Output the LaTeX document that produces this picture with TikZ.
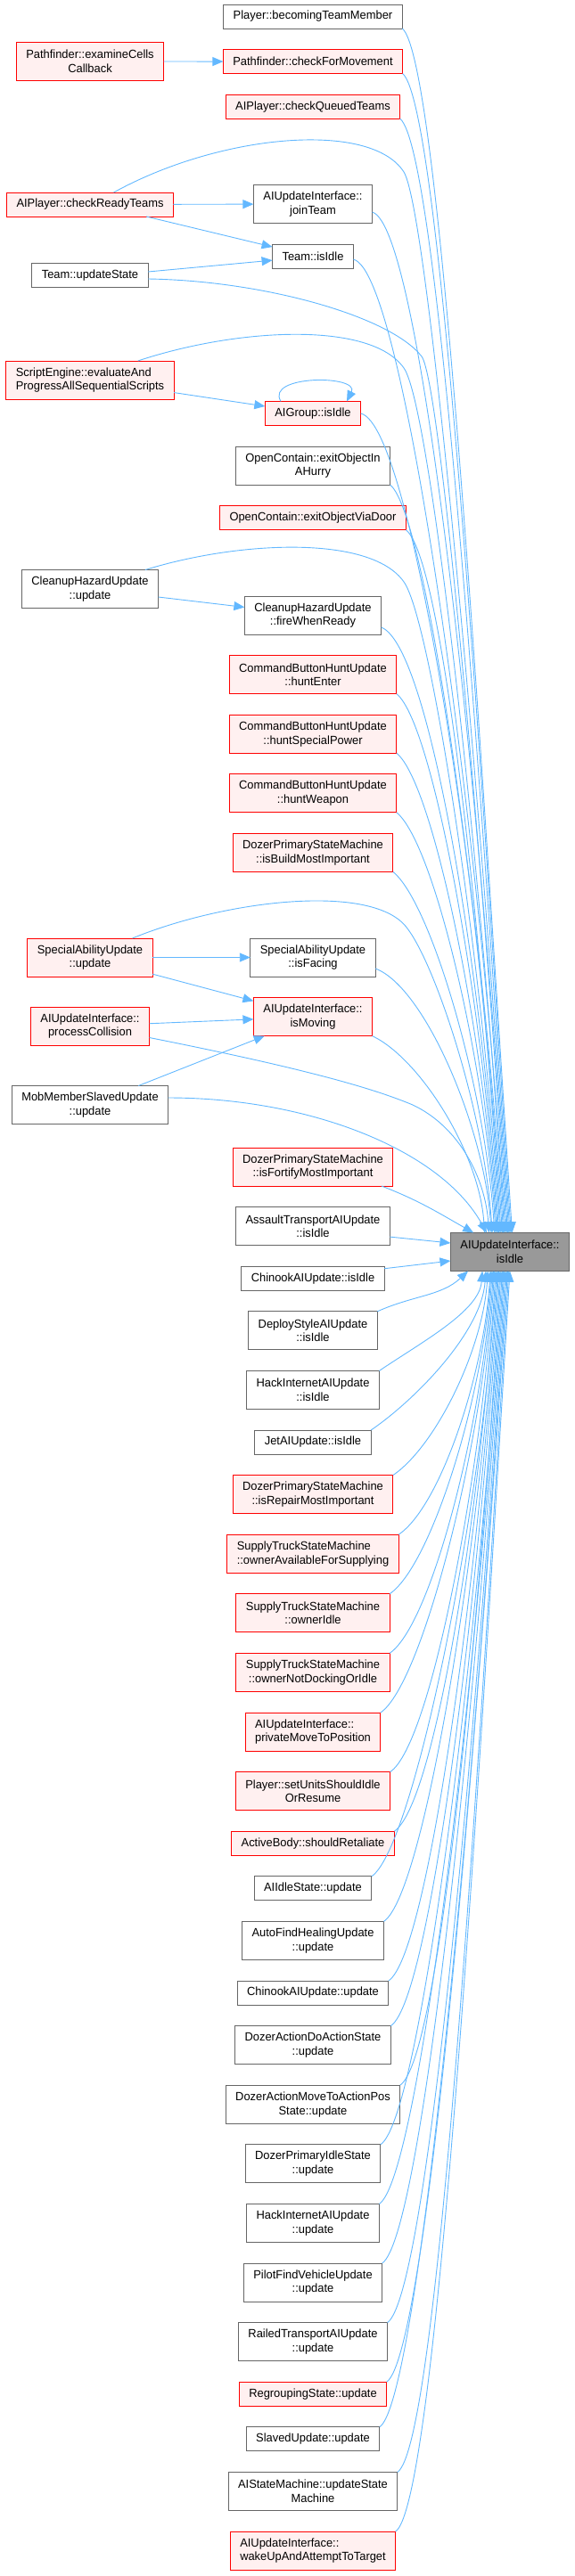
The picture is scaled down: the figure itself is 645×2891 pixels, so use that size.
\documentclass[tikz,border=0pt]{standalone}
\usepackage{fontspec}
\newfontfamily\dxfont{Liberation Sans}[FakeStretch=0.97]
\usetikzlibrary{positioning,arrows.meta}
\definecolor{edgeblue}{HTML}{63B8FF}
\definecolor{nodegrey}{HTML}{666666}
\definecolor{redfill}{HTML}{FFF0F0}
\definecolor{rootfill}{HTML}{999999}

\begin{document}
\begin{tikzpicture}[x=1pt, y=-1pt, node distance=23.6pt,
  font=\dxfont\fontsize{13.3}{15.7}\selectfont,
  fn/.style={draw=nodegrey, fill=white, line width=1pt, inner xsep=11pt, inner ysep=0pt, outer sep=0pt, minimum height=27pt, align=center},
  fnred/.style={fn, draw=red, fill=redfill},
  root/.style={fn, fill=rootfill},
  two/.style={minimum height=43pt},
  edge/.style={draw=edgeblue, line width=0.9pt, ->},
  >={Triangle[length=12pt,width=10pt]}]
\useasboundingbox (0,0) rectangle (645,2891);
% middle column
\node[fn] (bt) at (351,18.5) {Player::becomingTeamMember};
\node[fnred, below=of bt] (cfm) {Pathfinder::checkForMovement};
\node[fnred, below=of cfm] (cqt) {AIPlayer::checkQueuedTeams};
\node[fn, two] (jt) at (351,229) {AIUpdateInterface::\\joinTeam};
\node[fn, below=of jt] (ti) {Team::isIdle};
\node[fnred] (ag) at (351,464) {AIGroup::isIdle};
\node[fn, two, below=of ag] (eh) {OpenContain::exitObjectIn\\AHurry};
\node[fnred, below=of eh] (ed) {OpenContain::exitObjectViaDoor};
\node[fn, two] (fw) at (351,690.5) {CleanupHazardUpdate\\::fireWhenReady};
\node[fnred, two, below=of fw] (he) {CommandButtonHuntUpdate\\::huntEnter};
\node[fnred, two, below=of he] (hs) {CommandButtonHuntUpdate\\::huntSpecialPower};
\node[fnred, two, below=of hs] (hw) {CommandButtonHuntUpdate\\::huntWeapon};
\node[fnred, two, below=of hw] (ib) {DozerPrimaryStateMachine\\::isBuildMostImportant};
\node[fn, two] (isf) at (351,1074.5) {SpecialAbilityUpdate\\::isFacing};
\node[fnred, two, below=of isf] (ism) {AIUpdateInterface::\\isMoving};
\node[fnred, two] (ifm) at (351,1309.5) {DozerPrimaryStateMachine\\::isFortifyMostImportant};
\node[fn, two, below=of ifm] (ati) {AssaultTransportAIUpdate\\::isIdle};
\node[fn, below=of ati] (ci) {ChinookAIUpdate::isIdle};
\node[fn, two, below=of ci] (dsi) {DeployStyleAIUpdate\\::isIdle};
\node[fn, two, below=of dsi] (hii) {HackInternetAIUpdate\\::isIdle};
\node[fn, below=of hii] (jti) {JetAIUpdate::isIdle};
\node[fnred, two, below=of jti] (irm) {DozerPrimaryStateMachine\\::isRepairMostImportant};
\node[fnred, two, align=left, below=of irm] (oas) {SupplyTruckStateMachine\\::ownerAvailableForSupplying};
\node[fnred, two, below=of oas] (oid) {SupplyTruckStateMachine\\::ownerIdle};
\node[fnred, two, below=of oid] (ond) {SupplyTruckStateMachine\\::ownerNotDockingOrIdle};
\node[fnred, two, align=left, below=of ond] (pmp) {AIUpdateInterface::\\privateMoveToPosition};
\node[fnred, two, below=of pmp] (sus) {Player::setUnitsShouldIdle\\OrResume};
\node[fnred, below=of sus] (sra) {ActiveBody::shouldRetaliate};
\node[fn, below=of sra] (ais) {AIIdleState::update};
\node[fn, two, below=of ais] (afh) {AutoFindHealingUpdate\\::update};
\node[fn, below=of afh] (cau) {ChinookAIUpdate::update};
\node[fn, two, below=of cau] (dda) {DozerActionDoActionState\\::update};
\node[fn, two, below=of dda] (dmp) {DozerActionMoveToActionPos\\State::update};
\node[fn, two, below=of dmp] (dpi) {DozerPrimaryIdleState\\::update};
\node[fn, two, below=of dpi] (hiu) {HackInternetAIUpdate\\::update};
\node[fn, two, below=of hiu] (pfv) {PilotFindVehicleUpdate\\::update};
\node[fn, two, below=of pfv] (rta) {RailedTransportAIUpdate\\::update};
\node[fnred, below=of rta] (rgs) {RegroupingState::update};
\node[fn, below=of rgs] (slu) {SlavedUpdate::update};
\node[fn, two, below=of slu] (smu) {AIStateMachine::updateState\\Machine};
\node[fnred, two, align=left, below=of smu] (wua) {AIUpdateInterface::\\wakeUpAndAttemptToTarget};
% left column
\node[fnred, two] (ecb) at (101,69) {Pathfinder::examineCells\\Callback};
\node[fnred] (crt) at (101,229.5) {AIPlayer::checkReadyTeams};
\node[fn] (tus) at (101,309) {Team::updateState};
\node[fnred, two, align=left] (sea) at (101,426.5) {ScriptEngine::evaluateAnd\\ProgressAllSequentialScripts};
\node[fn, two] (chu) at (101,661) {CleanupHazardUpdate\\::update};
\node[fnred, two] (sau) at (101,1074.5) {SpecialAbilityUpdate\\::update};
\node[fnred, two] (pcl) at (101,1151.5) {AIUpdateInterface::\\processCollision};
\node[fn, two] (mms) at (101,1240) {MobMemberSlavedUpdate\\::update};
% the function itself
\node[root, two] (tgt) at (572,1405) {AIUpdateInterface::\\isIdle};

% callers above
\draw[edge] (bt.south east) .. controls +(43,35) and +(-35,-530) .. ([xshift=2.5pt]tgt.north);
\draw[edge] (ecb) -- (cfm);
\draw[edge] (cfm.south east) .. controls +(43,35) and +(-33,-510) .. ([xshift=1.2pt]tgt.north);
\draw[edge] (cqt.south east) .. controls +(43,35) and +(-32,-490) .. (tgt.north);
\draw[edge] ([xshift=26.5pt]crt.north) .. controls (247,150) and (416,135) .. (453,193)
  .. controls +(28,45) and +(-30,-470) .. ([xshift=-1.2pt]tgt.north);
\draw[edge] (crt) -- (jt);
\draw[edge] ([xshift=63pt]crt.south) -- ([yshift=-3pt]ti.north west);
\draw[edge] ([yshift=-9pt]jt.east) .. controls +(58,17) and +(-28,-450) .. ([xshift=-2.5pt]tgt.north);
\draw[edge] ([yshift=4pt]tus.east) -- ([yshift=-4.5pt]ti.west);
\draw[edge] ([yshift=-4pt]tus.east) .. controls (296,315) and (438,355) .. (473,400)
  .. controls +(22,30) and +(-25,-390) .. ([xshift=-3.7pt]tgt.north);
\draw[edge] ([yshift=-3.5pt]ti.east) .. controls +(59,13) and +(-27,-430) .. ([xshift=-5pt]tgt.north);
\draw[edge] ([xshift=53.7pt]sea.north) .. controls (266,368) and (416,360) .. (453,413)
  .. controls +(31,43) and +(-23,-380) .. ([xshift=-6.2pt]tgt.north);
\draw[edge] (sea) -- (ag);
\draw[edge] ([xshift=-36pt]ag.north) .. controls +(-18,-30) and +(15,-30) .. ([xshift=38pt]ag.north);
\draw[edge] (ag.east) .. controls +(59,13) and +(-22,-360) .. ([xshift=-7.4pt]tgt.north);
\draw[edge] (eh.south east) .. controls +(43,35) and +(-21,-330) .. ([xshift=-8.6pt]tgt.north);
\draw[edge] (ed.south east) .. controls +(43,35) and +(-20,-310) .. ([xshift=-10pt]tgt.north);
\draw[edge] ([xshift=62pt]chu.north) .. controls (268,607) and (416,600) .. (453,653)
  .. controls +(31,43) and +(-18,-290) .. ([xshift=-11pt]tgt.north);
\draw[edge] (chu) -- (fw);
\draw[edge] ([yshift=-13.5pt]fw.east) .. controls +(56,21) and +(-17,-270) .. ([xshift=-12.4pt]tgt.north);
\draw[edge] (he.south east) .. controls +(43,35) and +(-15,-240) .. ([xshift=-13.6pt]tgt.north);
\draw[edge] (hs.south east) .. controls +(43,35) and +(-13,-210) .. ([xshift=-14.8pt]tgt.north);
\draw[edge] (hw.south east) .. controls +(43,35) and +(-11,-185) .. ([xshift=-16pt]tgt.north);
\draw[edge] (ib.south east) .. controls +(43,35) and +(-10,-160) .. ([xshift=-17.3pt]tgt.north);
\draw[edge] ([xshift=47.5pt]sau.north) .. controls (253,1010) and (420,990) .. (457,1042)
  .. controls +(32,42) and +(-9,-135) .. ([xshift=-19.8pt]tgt.north);
\draw[edge] (sau) -- (isf);
\draw[edge] (sau) -- (ism);
\draw[edge] ([yshift=-12.5pt]isf.east) .. controls +(56,21) and +(-7,-115) .. ([xshift=-21pt]tgt.north);
\draw[edge] (pcl) -- (ism);
\draw[edge] ([yshift=-13pt]pcl.east) .. controls (346,1200) and (420,1222) .. (463,1240)
  .. controls +(53,25) and +(-4,-60) .. ([xshift=-23.5pt]tgt.north);
\draw[edge] (mms) -- (ism);
\draw[edge] ([yshift=8pt]mms.east) .. controls (346,1232) and (494,1290) .. ([xshift=-26pt]tgt.north);
\draw[edge] (ism.south east) .. controls +(53,25) and +(-6,-90) .. ([xshift=-28.4pt]tgt.north);
\draw[edge] ([xshift=-13pt]ifm.south east) .. controls +(42,16) and +(-37,-21) .. ([xshift=-40.8pt]tgt.north);
% callers beside
\draw[edge] ([yshift=-12pt]ati.east) -- ([yshift=10pt]tgt.west);
\draw[edge] ([yshift=11pt]ci.east) -- ([yshift=-10pt]tgt.west);
% callers below
\draw[edge] (dsi.north east) .. controls +(40,-18) and +(-30,28) .. ([xshift=-47pt]tgt.south);
\draw[edge] (hii.north east) .. controls +(47,-32) and +(-3,45) .. ([xshift=-31pt]tgt.south);
\draw[edge] (jti.north east) .. controls +(47,-32) and +(-5,70) .. ([xshift=-27pt]tgt.south);
\draw[edge] (irm.north east) .. controls +(47,-32) and +(-6,90) .. ([xshift=-24.7pt]tgt.south);
\draw[edge] (oas.north east) .. controls +(47,-32) and +(-7,115) .. ([xshift=-22pt]tgt.south);
\draw[edge] (oid.north east) .. controls +(47,-32) and +(-9,140) .. ([xshift=-21pt]tgt.south);
\draw[edge] (ond.north east) .. controls +(47,-32) and +(-11,170) .. ([xshift=-19.8pt]tgt.south);
\draw[edge] (pmp.north east) .. controls +(47,-32) and +(-12,195) .. ([xshift=-18.5pt]tgt.south);
\draw[edge] (sus.north east) .. controls +(47,-32) and +(-14,220) .. ([xshift=-17.3pt]tgt.south);
\draw[edge] (sra.north east) .. controls +(47,-32) and +(-15,250) .. ([xshift=-16pt]tgt.south);
\draw[edge] (ais.north east) .. controls +(47,-32) and +(-17,270) .. ([xshift=-14.8pt]tgt.south);
\draw[edge] (afh.north east) .. controls +(47,-32) and +(-18,290) .. ([xshift=-13.6pt]tgt.south);
\draw[edge] (cau.north east) .. controls +(47,-32) and +(-20,310) .. ([xshift=-12.4pt]tgt.south);
\draw[edge] (dda.north east) .. controls +(47,-32) and +(-21,330) .. ([xshift=-11pt]tgt.south);
\draw[edge] (dmp.north east) .. controls +(47,-32) and +(-22,360) .. ([xshift=-10pt]tgt.south);
\draw[edge] (dpi.north east) .. controls +(47,-32) and +(-24,385) .. ([xshift=-8.6pt]tgt.south);
\draw[edge] (hiu.north east) .. controls +(47,-32) and +(-25,410) .. ([xshift=-7.4pt]tgt.south);
\draw[edge] (pfv.north east) .. controls +(47,-32) and +(-27,435) .. ([xshift=-6.2pt]tgt.south);
\draw[edge] (rta.north east) .. controls +(47,-32) and +(-28,460) .. ([xshift=-5pt]tgt.south);
\draw[edge] (rgs.north east) .. controls +(47,-32) and +(-30,490) .. ([xshift=-3.7pt]tgt.south);
\draw[edge] (slu.north east) .. controls +(47,-32) and +(-32,510) .. ([xshift=-2.5pt]tgt.south);
\draw[edge] (smu.north east) .. controls +(47,-32) and +(-33,530) .. ([xshift=-1.2pt]tgt.south);
\draw[edge] (wua.north east) .. controls +(47,-32) and +(-34,555) .. (tgt.south);
\end{tikzpicture}
\end{document}
